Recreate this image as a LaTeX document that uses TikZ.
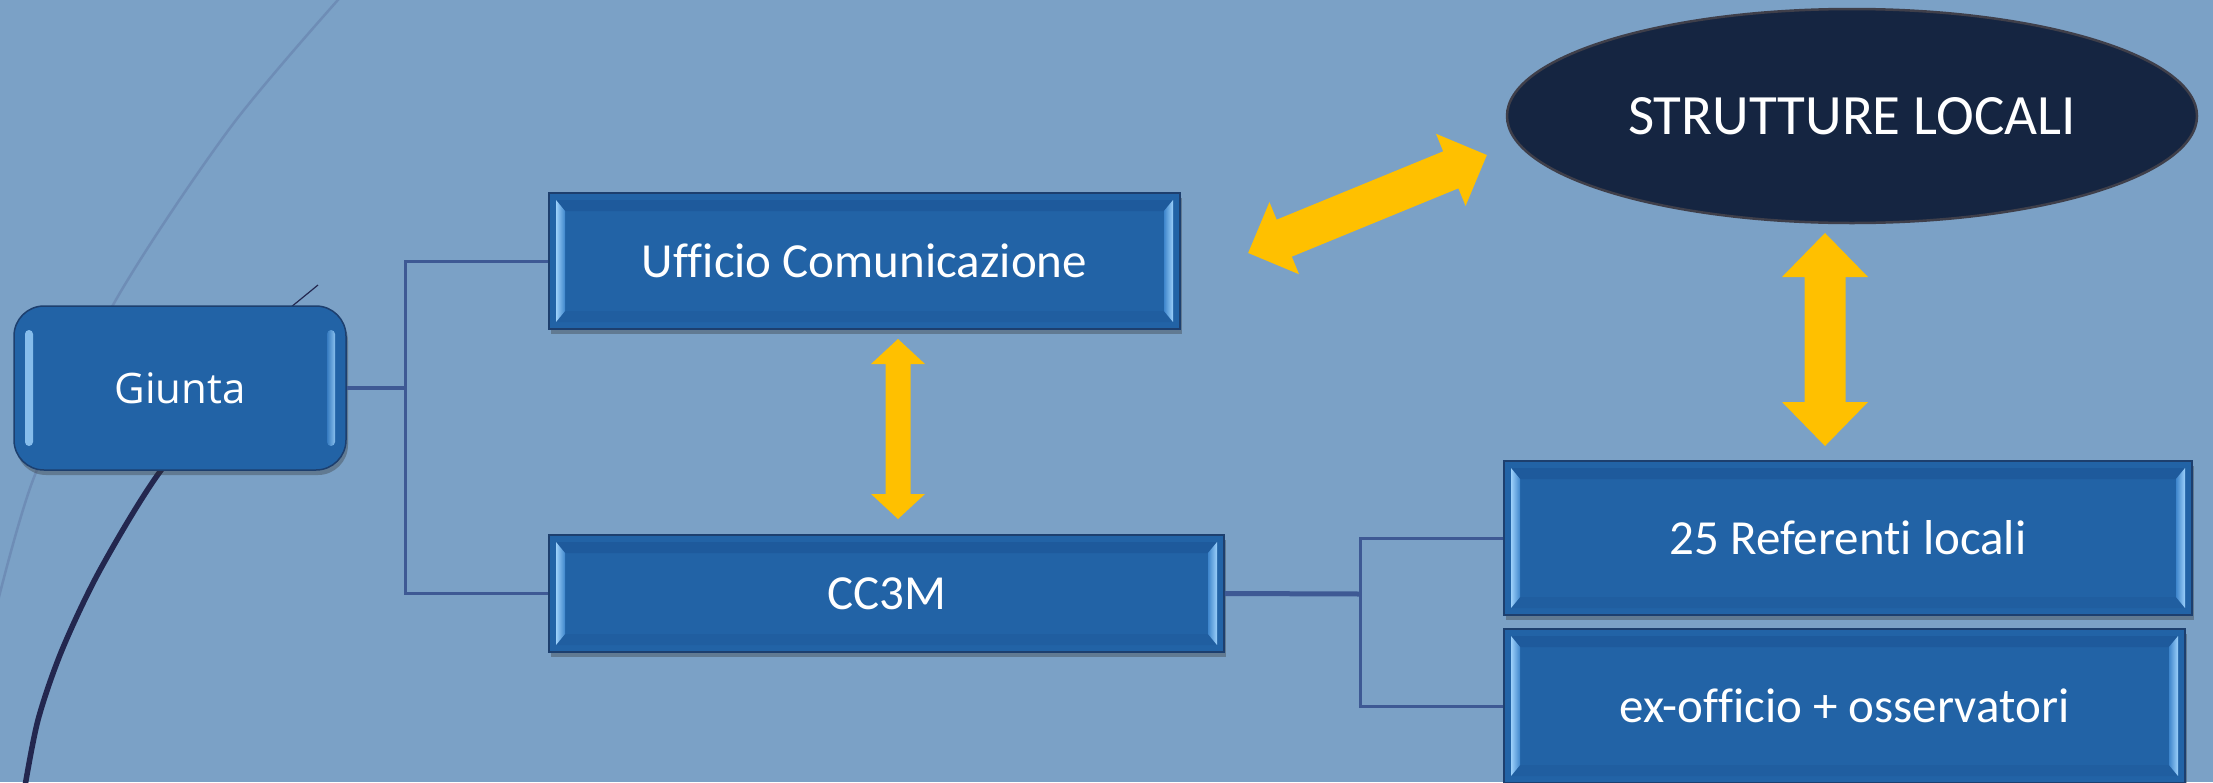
\documentclass[tikz,border=0pt]{standalone}
\usepackage{fontspec}
\setmainfont{Carlito}[Ligatures=NoCommon]
\newfontfamily\giuntafont{Open Sans}
\usetikzlibrary{shapes.geometric,shadows}
\definecolor{bg}{HTML}{7BA1C6}
\definecolor{boxblue}{HTML}{2263A6}
\definecolor{boxtop}{HTML}{1E5A9C}
\definecolor{boxbot}{HTML}{205EA0}
\definecolor{boxedge}{HTML}{1D3F6E}
\definecolor{bevlight}{HTML}{9CD0FA}
\definecolor{bevmid}{HTML}{3F86CC}
\definecolor{linkblue}{HTML}{3E5994}
\definecolor{ellfill}{HTML}{152541}
\definecolor{elledge}{HTML}{3F3F4A}
\definecolor{arrowyellow}{HTML}{FFC000}
\definecolor{curvelight}{HTML}{6E8DB6}
\definecolor{curvedark}{HTML}{23274F}
\tikzset{
  boxshadow/.style={drop shadow={shadow xshift=2pt,shadow yshift=-5pt,opacity=0.35,fill=black!80}},
  bevbox/.style={draw=boxedge, line width=1.5pt, fill=boxblue, inner sep=0pt, text=white,
    font=\fontsize{49}{58}\selectfont, boxshadow,
    path picture={
      \fill[boxtop] ([xshift=7pt,yshift=-7pt]path picture bounding box.north west) -- ([xshift=-7pt,yshift=-7pt]path picture bounding box.north east) -- ([xshift=-16pt,yshift=-18pt]path picture bounding box.north east) -- ([xshift=16pt,yshift=-18pt]path picture bounding box.north west) -- cycle;
      \fill[boxbot] ([xshift=7pt,yshift=7pt]path picture bounding box.south west) -- ([xshift=-7pt,yshift=7pt]path picture bounding box.south east) -- ([xshift=-16pt,yshift=18pt]path picture bounding box.south east) -- ([xshift=16pt,yshift=18pt]path picture bounding box.south west) -- cycle;
      \shade[left color=bevlight,right color=bevmid] ([xshift=7pt,yshift=-7pt]path picture bounding box.north west) -- ([xshift=16pt,yshift=-18pt]path picture bounding box.north west) -- ([xshift=16pt,yshift=18pt]path picture bounding box.south west) -- ([xshift=7pt,yshift=7pt]path picture bounding box.south west) -- cycle;
      \shade[left color=bevmid,right color=bevlight] ([xshift=-7pt,yshift=-7pt]path picture bounding box.north east) -- ([xshift=-16pt,yshift=-18pt]path picture bounding box.north east) -- ([xshift=-16pt,yshift=18pt]path picture bounding box.south east) -- ([xshift=-7pt,yshift=7pt]path picture bounding box.south east) -- cycle;
    }},
  giuntabox/.style={draw=boxedge, line width=1.5pt, fill=boxblue, inner sep=0pt, text=white,
    rounded corners=30pt, font=\giuntafont\fontsize{42}{50}\selectfont, boxshadow,
    path picture={
      \shade[left color=bevlight!85!boxblue,right color=bevmid!70!boxblue,rounded corners=4pt] ([xshift=11pt,yshift=-24pt]path picture bounding box.north west) rectangle ([xshift=19pt,yshift=24pt]path picture bounding box.south west);
      \shade[left color=bevmid!70!boxblue,right color=bevlight!85!boxblue,rounded corners=4pt] ([xshift=-19pt,yshift=-24pt]path picture bounding box.north east) rectangle ([xshift=-11pt,yshift=24pt]path picture bounding box.south east);
    }},
  ellnode/.style={ellipse, fill=ellfill, draw=elledge, line width=2.5pt, inner sep=0pt, text=white,
    font=\fontsize{57}{66}\selectfont},
  link/.style={draw=linkblue, line width=3pt},
  blockarrow/.style={fill=arrowyellow, draw=none},
}
\begin{document}
\begin{tikzpicture}[x=1pt,y=-1pt]
\useasboundingbox (0,0) rectangle (2213,782);
\clip (0,0) rectangle (2213,782);
\fill[bg] (0,0) rectangle (2213,782);
% background curves
\draw[curvelight, line width=2.5pt] plot[smooth] coordinates {(345,-8) (230,128) (113,305) (33,480) (-8,625)};
\draw[curvedark, line width=1.2pt] (318,285) -- (285,312);
\draw[curvedark, line width=5.5pt] plot[smooth] coordinates {(240,375) (159,473) (100,570) (62,650) (38,720) (24,792)};
% nodes
\node[giuntabox, minimum width=332pt, minimum height=164pt] (giunta) at (180,388) {Giunta};
\node[bevbox, minimum width=631pt, minimum height=136pt] (uff) at (864.5,261) {Ufficio Comunicazione};
\node[bevbox, minimum width=675pt, minimum height=117pt] (cc3m) at (886.5,593.5) {CC3M};
\node[ellnode, minimum width=690pt, minimum height=214pt] (strutture) at (1852,116) {STRUTTURE LOCALI};
\node[bevbox, minimum width=688pt, minimum height=154pt] (ref) at (1848,538) {25 Referenti locali};
\node[bevbox, minimum width=681pt, minimum height=154pt] (exo) at (1844.5,706) {ex-officio + osservatori};
% connectors
\coordinate (bus1) at (405,388);
\draw[link, line width=4pt] (giunta.east) -- (bus1);
\draw[link] (bus1) |- (uff.west);
\draw[link] (bus1) |- (cc3m.west);
\coordinate (bus2) at (1360,594);
\draw[link, line width=5pt] (cc3m.east) -- (bus2);
\draw[link] (bus2) |- (ref.west);
\draw[link] (bus2) |- (exo.west);
% block arrows (two-headed)
\fill[blockarrow] (898,339) -- (925,364) -- (910.5,364) -- (910.5,494) -- (925,494) -- (898,519)
  -- (871,494) -- (885.5,494) -- (885.5,364) -- (871,364) -- cycle;
\fill[blockarrow] (1825,233) -- (1868,277) -- (1845.5,277) -- (1845.5,402) -- (1868,402) -- (1825,446)
  -- (1782,402) -- (1804.5,402) -- (1804.5,277) -- (1782,277) -- cycle;
\fill[blockarrow] (1486.85,155.04) -- (1465.57,205.92) -- (1458.36,188.34) -- (1291.82,256.66)
  -- (1299.03,274.24) -- (1248.15,252.96) -- (1269.43,202.08) -- (1276.64,219.66)
  -- (1443.18,151.34) -- (1435.97,133.76) -- cycle;
\end{tikzpicture}
\end{document}
